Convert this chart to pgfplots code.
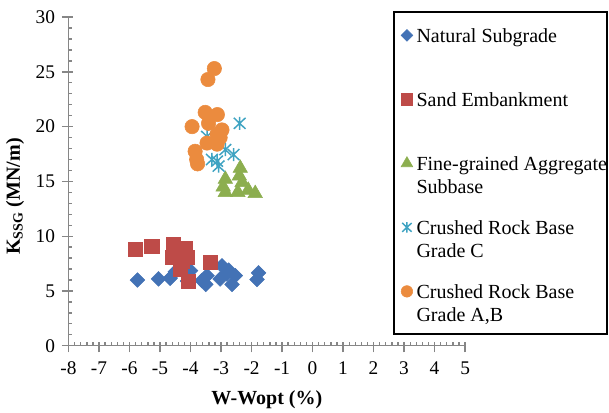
\documentclass[border=0pt]{standalone}
\usepackage{fontspec}
\setmainfont{Liberation Serif}
\usepackage{pgfplots}
\pgfplotsset{compat=1.18}

\definecolor{cBlue}{HTML}{4372B5}
\definecolor{cRed}{HTML}{BE4B48}
\definecolor{cGreen}{HTML}{8CAE4F}
\definecolor{cCyan}{HTML}{3FA3C2}
\definecolor{cOrange}{HTML}{EB8B3E}
\definecolor{axgray}{HTML}{868686}

% Excel style star: vertical bar plus a cross
\pgfdeclareplotmark{xstar}{%
  \pgfpathmoveto{\pgfqpoint{0pt}{\pgfplotmarksize}}%
  \pgfpathlineto{\pgfqpoint{0pt}{-\pgfplotmarksize}}%
  \pgfpathmoveto{\pgfqpoint{-.9\pgfplotmarksize}{.85\pgfplotmarksize}}%
  \pgfpathlineto{\pgfqpoint{.9\pgfplotmarksize}{-.85\pgfplotmarksize}}%
  \pgfpathmoveto{\pgfqpoint{-.9\pgfplotmarksize}{-.85\pgfplotmarksize}}%
  \pgfpathlineto{\pgfqpoint{.9\pgfplotmarksize}{.85\pgfplotmarksize}}%
  \pgfusepathqstroke}

\pgfplotsset{
  lgmark/.style={legend image code/.code={%
    \path (-5pt,0pt) (5pt,0pt);
    \draw[##1,every mark/.append style={scale=0.8}] plot coordinates {(0pt,5.25pt)};}},
}

\newcommand{\lgtext}[1]{\parbox[t][48pt][t]{150pt}{\raggedright\strut #1}}

\begin{document}
\begin{tikzpicture}
\path[use as bounding box] (0,0) rectangle (456.75pt,309pt);
\begin{axis}[
  at={(51.4pt,49.7pt)}, anchor=south west,
  scale only axis, width=297.4pt, height=246.5pt,
  xmin=-8, xmax=5, ymin=0, ymax=30,
  axis x line=bottom, axis y line=left,
  axis line style={-, draw=axgray, line width=1.1pt},
  xtick={-8,-7,...,5}, ytick={0,5,...,30},
  minor x tick num=4, minor y tick num=4,
  tick align=inside,
  major tick length=3pt, minor tick length=2.5pt,
  tick style={axgray, line width=1pt},
  % outward half of the crossing major ticks
  extra x ticks={-8,-7,...,5}, extra x tick labels={},
  extra y ticks={0,5,...,30}, extra y tick labels={},
  extra tick style={tick align=outside, major tick length=5pt},
  /pgf/number format/assume math mode=true,
  tick label style={font=\fontsize{14.5}{17}\selectfont},
  xticklabel style={yshift=-8.5pt},
  yticklabel style={xshift=-6.6pt},
  label style={font=\fontsize{15}{17.25}\selectfont\bfseries},
  xlabel={W-Wopt (\%)},
  ylabel={K\textsubscript{SSG} (MN/m)},
  xlabel style={at={(axis description cs:0.5,-0.165)}, anchor=center},
  ylabel style={at={(axis description cs:-0.135,0.454)}, anchor=center},
  legend style={at={(axis description cs:0.8359,0.972)}, anchor=north west,
    draw=none, fill=none, inner sep=0pt, outer sep=0pt,
    column sep=2pt, row sep=0pt,
    nodes={inner sep=0pt, outer sep=0pt, text depth=},
    cells={anchor=base west},
    font=\fontsize{15}{17.25}\selectfont},
]
\addplot[only marks, color=cBlue, mark=square*, mark size=3.9pt,
  mark options={rotate=45, draw=cBlue, fill=cBlue}, lgmark] coordinates {
(-5.74,6.0) (-5.05,6.1) (-4.67,6.15) (-4.5,6.75) (-4.0,6.85) (-4.1,5.9)
(-3.63,5.95) (-3.5,5.6) (-3.46,6.4) (-2.97,7.3) (-3.03,6.1) (-2.81,6.55)
(-2.75,6.9) (-2.64,5.6) (-2.53,6.4) (-1.77,6.65) (-1.82,6.05)
};
\addlegendentry{\lgtext{Natural Subgrade}}
\addplot[only marks, color=cRed, mark=square*, mark size=5.3pt,
  mark options={draw=cRed, fill=cRed}, lgmark] coordinates {
(-5.81,8.8) (-5.27,9.1) (-4.58,9.3) (-4.17,8.9) (-4.61,8.1) (-4.12,8.1)
(-4.34,7.0) (-4.28,7.7) (-4.07,5.9) (-3.35,7.6)
};
\addlegendentry{\lgtext{Sand Embankment}}
\addplot[only marks, color=cGreen, mark=triangle*, mark size=6.3pt,
  mark options={draw=cGreen, fill=cGreen}, lgmark] coordinates {
(-2.37,16.2) (-2.40,15.5) (-2.31,14.9) (-2.86,15.2) (-2.93,14.5)
(-2.86,14.0) (-2.11,14.2) (-1.88,13.9) (-2.45,14.0)
};
\addlegendentry{\lgtext{Fine-grained Aggregate\\\strut Subbase}}
\addplot[only marks, color=cCyan, mark=xstar, mark size=4.9pt,
  mark options={draw=cCyan, line width=1.1pt}, lgmark] coordinates {
(-2.39,20.3) (-2.59,17.45) (-3.13,16.85) (-3.3,17.0) (-3.08,16.4)
(-2.86,17.9) (-3.46,19.1)
};
\addlegendentry{\lgtext{Crushed Rock Base\\\strut Grade C}}
\addplot[only marks, color=cOrange, mark=*, mark size=5.4pt,
  mark options={draw=cOrange, fill=cOrange}, lgmark] coordinates {
(-3.22,25.3) (-3.43,24.3) (-3.52,21.3) (-3.12,21.1) (-3.95,20.0)
(-3.41,20.3) (-2.97,19.7) (-3.13,19.3) (-3.03,19.0) (-3.46,18.5)
(-3.13,18.4) (-3.85,17.75) (-3.8,17.0) (-3.77,16.6)
};
\addlegendentry{\lgtext{Crushed Rock Base\\\strut Grade A,B}}
\end{axis}
\draw[black, line width=0.9pt] (295.5pt,58.5pt) rectangle (455.25pt,300pt);
\end{tikzpicture}
\end{document}
